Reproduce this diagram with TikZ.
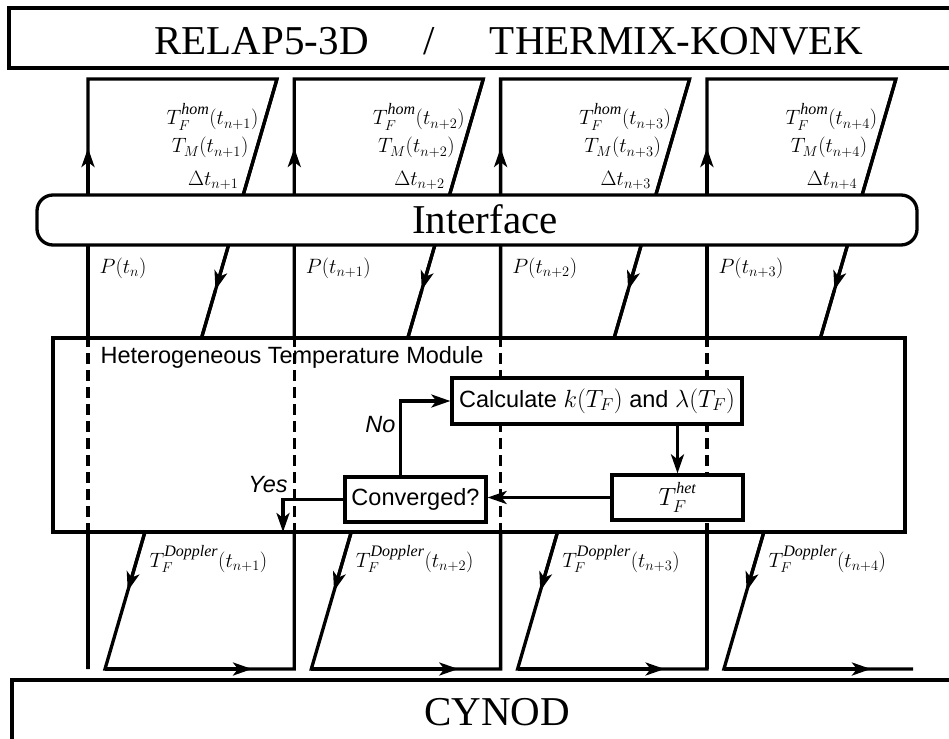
\documentclass[tikz,border=0pt]{standalone}
\usepackage{fontspec}
\setmainfont{Liberation Serif}
\setsansfont{Liberation Sans}
\usetikzlibrary{arrows.meta,positioning,calc}
\newcommand\suptxt[1]{\mbox{\raisebox{3pt}{\rmfamily\fontsize{16}{16}\selectfont\itshape #1}}}

\begin{document}
\begin{tikzpicture}[
  x=1pt, y=-1pt,
  line width=3.3pt,
  >={Stealth[length=19pt,width=13pt,inset=5pt]},
  arrline/.style={->},
  dashline/.style={dash pattern=on 11pt off 6pt},
  codebox/.style={draw, fill=white, rectangle, inner sep=0pt},
  codename/.style={inner sep=0pt, font=\fontsize{41}{49}\selectfont},
  modbox/.style={draw, fill=white, rectangle, inner sep=0pt, font=\sffamily\fontsize{23.5}{28}\selectfont},
  sanstxt/.style={inner sep=0pt, font=\sffamily\fontsize{23.5}{28}\selectfont},
  lbl/.style={inner sep=0pt, font=\fontsize{21}{24}\selectfont},
]
\useasboundingbox (0,0) rectangle (949,738);
\clip (0,0) rectangle (949,738);

% codes at top and bottom
\draw (9,8) rectangle (960,68);
\node[codename, anchor=base] (relap) at (509,55) {RELAP5-3D\hspace{55pt}/\hspace{55pt}THERMIX-KONVEK};
\draw (12,680) rectangle (960,760);
\node[codename, anchor=base] (cynod) at (497,725) {CYNOD};

% time step loops
\foreach \i in {0,...,3} {
  \pgfmathsetmacro\xu{88+206.3*\i}
  \pgfmathsetmacro\xn{88+206.3*(\i+1)}
  \coordinate (bl\i) at (\xu,669);
  \coordinate (up\i) at (\xu,148);
  \coordinate (tl\i) at (\xu,79);
  \coordinate (tr\i) at (\xu+189,79);
  \coordinate (sb\i) at (\xu+17,669);
  \coordinate (bt\i) at (\xu+164,669);
  \coordinate (br\i) at (\xn,669);
  \coordinate (sa\i) at ($(tr\i)!0.3576!(sb\i)$);
  \coordinate (sc\i) at ($(tr\i)!0.8678!(sb\i)$);
}
\draw (bl0) \foreach \i in {0,...,3} { -- (tl\i) -- (tr\i) -- (sb\i) -- (br\i) };
\foreach \i in {0,...,3} {
  \draw[arrline] (bl\i) -- (up\i);
  \draw[arrline] (tr\i) -- (sa\i);
  \draw[arrline] (sa\i) -- (sc\i);
  \draw[arrline] (sb\i) -- (bt\i);
}

% interface
\node[codebox, rounded corners=16pt, minimum width=880pt, minimum height=50pt] (iface) at (477,220) {};
\node[codename, anchor=base] (ifacetxt) at (485,233) {Interface};

% heterogeneous temperature module
\node[codebox, minimum width=852pt, minimum height=194pt] (htm) at (479,435) {};
\foreach \i in {0,...,3} {
  \draw[dashline] (tl\i |- htm.north) -- (tl\i |- htm.south);
}
\node[sanstxt, anchor=base west] (htmtxt) at (99,363) {Heterogeneous Temperature Module};

\node[modbox, minimum width=290pt, minimum height=46pt] (calcbox) at (597,401) {Calculate $k(T_F)$ and $\lambda(T_F)$};
\node[modbox, minimum width=131pt, minimum height=45pt] (het) at (677.5,497.5) {$T_F^{\suptxt{het}}$};
\node[modbox, minimum width=141pt, minimum height=45pt] (conv) at (415.5,499.5) {Converged?};
\coordinate (yesend) at (283,532);

\draw[arrline] (calcbox.south -| het.north) -- (het.north);
\draw[arrline] (het.west) -- (het.west -| conv.east);
\draw[arrline] ([xshift=-15pt]conv.north) |- (calcbox.west);
\draw[arrline] (conv.west) -| (yesend);
\node[sanstxt, font=\sffamily\itshape\fontsize{23.5}{28}\selectfont, anchor=east] (notxt) at (397,425) {No};
\node[sanstxt, font=\sffamily\itshape\fontsize{23.5}{28}\selectfont] (yestxt) at (268,485) {Yes};

% values passed between the codes
\foreach \i in {0,...,3} {
  \pgfmathtruncatemacro\k{\i+1}
  \node[lbl, anchor=base east] (thom\i) at ($(tl\i)+(172,46)$) {$T_F^{\suptxt{hom}}(t_{n+\k})$};
  \node[lbl, anchor=base east] (tm\i) at ($(tl\i)+(162,74)$) {$T_M(t_{n+\k})$};
  \node[lbl, anchor=base east] (dt\i) at ($(tl\i)+(152,106)$) {$\Delta t_{n+\k}$};
  \node[lbl, anchor=base west] (pw\i) at ($(tl\i)+(10,194)$) {\ifnum\i=0 $P(t_n)$\else $P(t_{n+\i})$\fi};
  \node[lbl, anchor=base west] (tdop\i) at ($(tl\i)+(60,488)$) {$T_F^{\suptxt{Doppler}}(t_{n+\k})$};
}
\end{tikzpicture}
\end{document}
